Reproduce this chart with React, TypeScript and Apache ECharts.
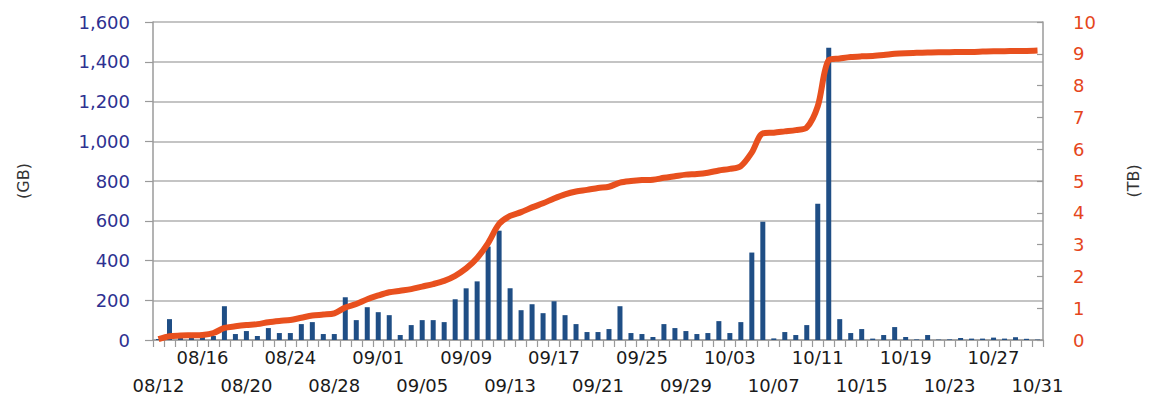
import React, { useEffect, useRef } from "react";
import * as echarts from "echarts";

const dates = [
  "08/12","08/13","08/14","08/15","08/16","08/17","08/18","08/19","08/20","08/21",
  "08/22","08/23","08/24","08/25","08/26","08/27","08/28","08/29","08/30","08/31",
  "09/01","09/02","09/03","09/04","09/05","09/06","09/07","09/08","09/09","09/10",
  "09/11","09/12","09/13","09/14","09/15","09/16","09/17","09/18","09/19","09/20",
  "09/21","09/22","09/23","09/24","09/25","09/26","09/27","09/28","09/29","09/30",
  "10/01","10/02","10/03","10/04","10/05","10/06","10/07","10/08","10/09","10/10",
  "10/11","10/12","10/13","10/14","10/15","10/16","10/17","10/18","10/19","10/20",
  "10/21","10/22","10/23","10/24","10/25","10/26","10/27","10/28","10/29","10/30",
  "10/31",
];

// daily transfer (GB)
const dailyGB = [
  5, 105, 15, 10, 15, 20, 170, 30, 45, 20,
  60, 35, 35, 80, 90, 30, 30, 215, 100, 165,
  140, 125, 25, 75, 100, 100, 90, 205, 260, 295,
  470, 550, 260, 150, 180, 135, 195, 125, 80, 40,
  40, 55, 170, 35, 30, 15, 80, 60, 45, 30,
  35, 95, 35, 90, 440, 595, 8, 40, 25, 75,
  685, 1470, 105, 35, 55, 7, 25, 65, 15, 3,
  25, 2, 3, 10, 7, 7, 12, 7, 14, 6,
  2,
];

// cumulative total (TB)
const totalTB = [
  0.03, 0.12, 0.14, 0.15, 0.16, 0.22, 0.38, 0.43, 0.47, 0.5,
  0.56, 0.6, 0.63, 0.7, 0.77, 0.8, 0.84, 1.02, 1.13, 1.28,
  1.4, 1.5, 1.55, 1.6, 1.68, 1.76, 1.86, 2.02, 2.25, 2.58,
  3.05, 3.65, 3.9, 4.02, 4.17, 4.3, 4.45, 4.58, 4.67, 4.72,
  4.78, 4.82, 4.95, 5.0, 5.03, 5.04, 5.1, 5.15, 5.2, 5.22,
  5.26, 5.33, 5.38, 5.47, 5.9, 6.5, 6.52, 6.56, 6.6, 6.68,
  7.35, 8.8, 8.85, 8.9, 8.92, 8.93, 8.96, 9.0, 9.02, 9.03,
  9.04, 9.05, 9.05, 9.06, 9.06, 9.07, 9.08, 9.08, 9.09, 9.09,
  9.1,
];

const gbTicks = { min: 0, max: 1600, interval: 200 };
const tbTicks = { min: 0, max: 10, interval: 1 };

const FONT = "DejaVu Sans";

export default function App() {
  const ref = useRef<HTMLDivElement>(null);
  useEffect(() => {
    if (!ref.current) return;
    const chart = echarts.init(ref.current, null, { renderer: "svg" });
    chart.setOption({
      animation: false,
      backgroundColor: "#ffffff",
      grid: { left: 153, right: 110, top: 22, bottom: 67, containLabel: false },
      xAxis: {
        type: "category",
        data: dates,
        boundaryGap: true,
        axisLine: { lineStyle: { color: "#9a9a9a", width: 1.5 } },
        axisTick: { show: true, interval: 0, length: 7, lineStyle: { color: "#9a9a9a", width: 1.2 } },
        axisLabel: {
          interval: 0,
          margin: 3,
          fontSize: 18,
          lineHeight: 28,
          fontFamily: FONT,
          color: "#1a1a1a",
          formatter: (v: string, i: number) => {
            if (i % 8 === 0) return "\n" + v;
            if (i % 8 === 4) return v;
            return "";
          },
        },
        splitLine: { show: false },
      },
      yAxis: [
        {
          type: "value",
          position: "left",
          ...gbTicks,
          name: "(GB)",
          nameLocation: "middle",
          nameRotate: 90,
          nameGap: 122,
          nameTextStyle: { fontSize: 16, fontFamily: FONT, color: "#333" },
          axisLine: { show: true, lineStyle: { color: "#9a9a9a", width: 1.5 } },
          axisTick: { show: true, length: 8, lineStyle: { color: "#9a9a9a", width: 1.2 } },
          axisLabel: {
            margin: 23,
            fontSize: 18,
            fontFamily: FONT,
            color: "#2e3191",
            formatter: (v: number) => v.toLocaleString("en-US"),
          },
          splitLine: { show: true, lineStyle: { color: "#b0b0b0", width: 1.5 } },
        },
        {
          type: "value",
          position: "right",
          ...tbTicks,
          name: "(TB)",
          nameLocation: "middle",
          nameRotate: 90,
          nameGap: 82,
          nameTextStyle: { fontSize: 16, fontFamily: FONT, color: "#333" },
          axisLine: { show: true, lineStyle: { color: "#9a9a9a", width: 1.5 } },
          axisTick: { show: true, inside: true, length: 6, lineStyle: { color: "#9a9a9a", width: 1.2 } },
          axisLabel: {
            margin: 30,
            fontSize: 18,
            fontFamily: FONT,
            color: "#e5461c",
          },
          splitLine: { show: false },
        },
      ],
      series: [
        {
          type: "bar",
          yAxisIndex: 0,
          data: dailyGB,
          barWidth: 5,
          itemStyle: { color: "#1f4e85" },
          z: 2,
        },
        {
          type: "line",
          yAxisIndex: 1,
          data: totalTB,
          smooth: 0.3,
          showSymbol: false,
          symbol: "none",
          lineStyle: { color: "#e8501e", width: 6 },
          z: 3,
        },
      ],
    });
    return () => chart.dispose();
  }, []);
  return (
    <div
      ref={ref}
      style={{ position: "absolute", left: 0, top: 0, width: 1153, height: 407 }}
    />
  );
}
